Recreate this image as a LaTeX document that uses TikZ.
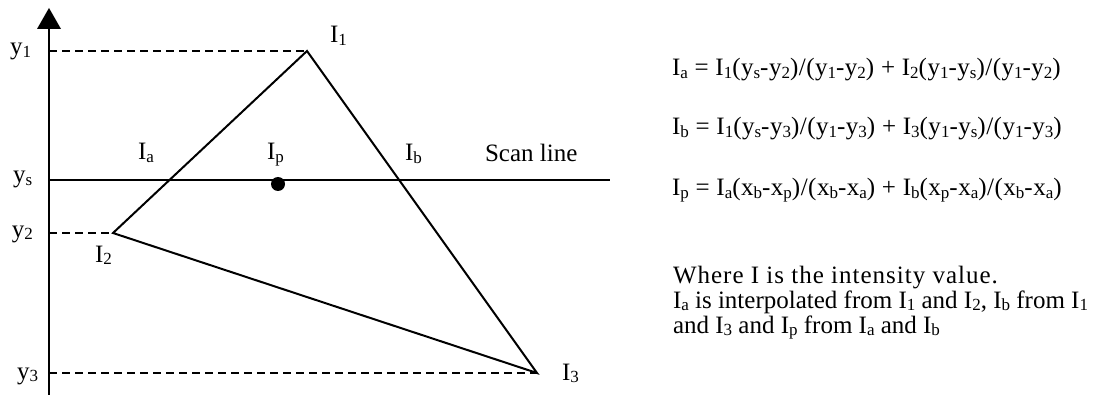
\documentclass[tikz,border=0pt]{standalone}
\usepackage{fontspec}
\setmainfont{Liberation Serif}
\usepackage{graphicx}
\newcommand\lo[1]{\raisebox{-0.25ex}{\scalebox{0.68}{#1}}}
\begin{document}
\begin{tikzpicture}[x=1pt,y=-1pt,
  font=\fontsize{25}{30}\selectfont,
  lab/.style={anchor=base west, inner sep=0pt, outer sep=0pt},
  eqn/.style={lab, font=\fontsize{25}{30}\selectfont\addfontfeature{LetterSpace=2}},
  loose/.style={lab, font=\fontsize{25}{30}\selectfont\addfontfeature{LetterSpace=4}},
  edge/.style={line width=2pt, line join=miter},
  guide/.style={line width=1.8pt, dash pattern=on 8pt off 5pt},
  axisline/.style={line width=1.6pt}]
\useasboundingbox (0,0) rectangle (1107,395);
% coordinates
\coordinate (axtop) at (49,8);
\coordinate (axbase) at (49,29);
\coordinate (axbot) at (49,395);
\coordinate (Y1) at (49,51);
\coordinate (YS) at (49,180);
\coordinate (Y2) at (49,233);
\coordinate (Y3) at (49,373);
\coordinate (I1) at (307,51);
\coordinate (I2) at (113,233);
\coordinate (I3) at (537,373);
\coordinate (SE) at (610,180);
\coordinate (IP) at (278,184);
% axis
\draw[axisline] (axbot) -- (axbase);
\fill (axtop) -- ([xshift=12pt]axbase) -- ([xshift=-12pt]axbase) -- cycle;
% guides
\draw[guide] (Y1) -- (I1);
\draw[guide] (Y2) -- (I2);
\draw[guide] (Y3) -- (I3);
% scan line
\draw[line width=1.6pt] (YS) -- (SE);
% triangle
\draw[edge] (I2) -- (I1) -- (I3) -- cycle;
% point
\fill (IP) circle (7);
% labels
\node[lab] (ly1) at (10,55) {y\lo{1}};
\node[lab] (lys) at (13,183) {y\lo{s}};
\node[lab] (ly2) at (12,237) {y\lo{2}};
\node[lab] (ly3) at (17,379) {y\lo{3}};
\node[lab] (lI1) at (330,43) {I\lo{1}};
\node[lab] (lIa) at (138,160) {I\lo{a}};
\node[lab] (lIp) at (267,160) {I\lo{p}};
\node[lab] (lIb) at (405,161) {I\lo{b}};
\node[lab] (lscan) at (485,162) {Scan line};
\node[lab] (lI2) at (95,262) {I\lo{2}};
\node[lab] (lI3) at (562,380) {I\lo{3}};
% equations
\node[eqn] (eqa) at (672,76) {I\lo{a} = I\lo{1}(y\lo{s}-y\lo{2})/(y\lo{1}-y\lo{2}) + I\lo{2}(y\lo{1}-y\lo{s})/(y\lo{1}-y\lo{2})};
\node[eqn] (eqb) at (672,135) {I\lo{b} = I\lo{1}(y\lo{s}-y\lo{3})/(y\lo{1}-y\lo{3}) + I\lo{3}(y\lo{1}-y\lo{s})/(y\lo{1}-y\lo{3})};
\node[eqn] (eqp) at (672,196) {I\lo{p} = I\lo{a}(x\lo{b}-x\lo{p})/(x\lo{b}-x\lo{a}) + I\lo{b}(x\lo{p}-x\lo{a})/(x\lo{b}-x\lo{a})};
\node[loose] (t1) at (673,283) {Where I is the intensity value.};
\node[lab] (t2) at (673,308) {I\lo{a} is interpolated from I\lo{1} and I\lo{2}, I\lo{b} from I\lo{1}};
\node[lab] (t3) at (673,333) {and I\lo{3} and I\lo{p} from I\lo{a} and I\lo{b}};
\end{tikzpicture}
\end{document}
